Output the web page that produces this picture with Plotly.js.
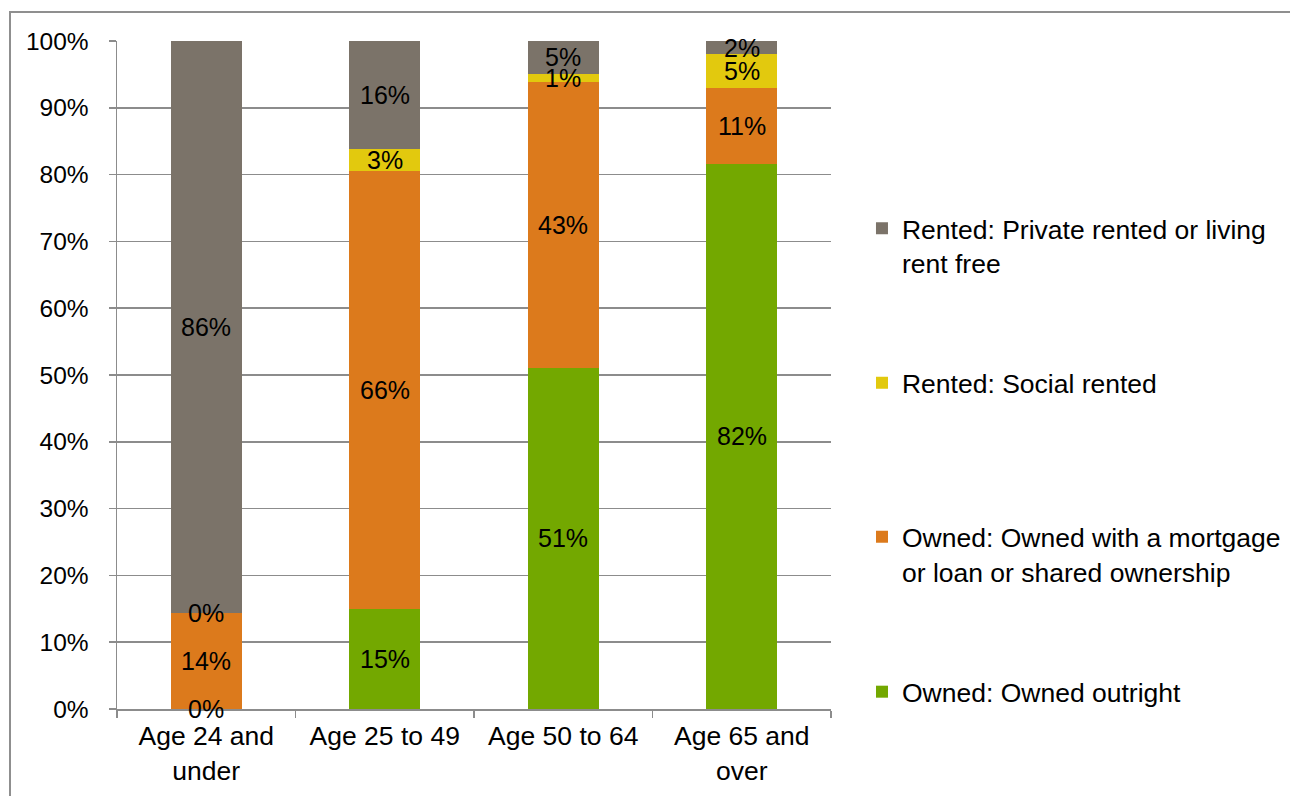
<!DOCTYPE html>
<html>
<head>
<meta charset="utf-8">
<script src="https://cdn.plot.ly/plotly-3.0.1.min.js"></script>
<style>
  html, body { margin: 0; padding: 0; background: #fff; overflow: hidden; }
  #wrap { position: relative; width: 1290px; height: 796px; overflow: hidden; }
  #chart { position: absolute; left: 0; top: 0; width: 1290px; height: 796px; }
  #frame { position: absolute; left: 9px; top: 11px; width: 1400px; height: 900px;
           border: 2px solid #8f8f8f; pointer-events: none; box-sizing: border-box; }
</style>
</head>
<body>
<div id="wrap">
  <div id="chart"></div>
  <div id="frame"></div>
</div>
<script>
// ---- data ----
const categories = ["Age 24 and<br>under", "Age 25 to 49", "Age 50 to 64", "Age 65 and<br>over"];
const ownedOutright = [0, 15.0, 51.1, 81.6];
const ownedMortgage = [14.3, 65.6, 42.7, 11.4];
const socialRented  = [0, 3.3, 1.3, 5.0];
const privateRented = [85.7, 16.1, 4.9, 2.0];
const seriesNames = [
  "Owned: Owned outright",
  "Owned: Owned with a mortgage<br>or loan or shared ownership",
  "Rented: Social rented",
  "Rented: Private rented or living<br>rent free"
];
const yTicks = [0, 10, 20, 30, 40, 50, 60, 70, 80, 90, 100];

// ---- styles ----
const colors = ["#73a800", "#dc7a1c", "#e2c90e", "#7b7369"];
const gridCol = "#8c8c8c";
const FONT = "Liberation Sans, Arial, sans-serif";
const FS_LABEL = 25;
const FS_X = 26.5;
const FS_Y = 24.5;
const FS_LEG = 26.5;

const seriesVals = [ownedOutright, ownedMortgage, socialRented, privateRented];
const legendIds = ["legend4", "legend3", "legend2", "legend"];

const traces = seriesVals.map((vals, i) => ({
  type: "bar",
  x: categories,
  y: vals,
  name: seriesNames[i],
  marker: { color: colors[i], line: { width: 0 } },
  hoverinfo: "skip",
  legend: legendIds[i],
  showlegend: true
}));

// data labels centred in each segment
const annotations = [];
categories.forEach((c, ci) => {
  let base = 0;
  seriesVals.forEach((vals) => {
    const v = vals[ci];
    annotations.push({
      x: c, y: base + v / 2, xref: "x", yref: "y",
      text: Math.round(v) + "%", showarrow: false,
      xanchor: "center", yanchor: "middle",
      font: { family: FONT, size: FS_LABEL, color: "#000" }
    });
    base += v;
  });
});

const legendBase = (y) => ({
  xref: "container", yref: "container",
  x: 0.6682, y: y, xanchor: "left", yanchor: "middle",
  bgcolor: "rgba(0,0,0,0)", borderwidth: 0, valign: "top",
  font: { family: FONT, size: FS_LEG, color: "#000" }
});

const layout = {
  width: 1290, height: 796,
  margin: { l: 117, r: 459, t: 41, b: 87, pad: 0 },
  paper_bgcolor: "#fff", plot_bgcolor: "#fff",
  barmode: "stack", bargap: 0.6,
  font: { family: FONT, size: FS_LABEL, color: "#000" },
  xaxis: {
    type: "category", tickson: "boundaries", ticks: "outside", ticklen: 7,
    tickcolor: gridCol, tickwidth: 1.5, showline: true, linecolor: gridCol, linewidth: 1.5,
    showgrid: false, ticklabelstandoff: 3, fixedrange: true,
    tickfont: { family: FONT, size: FS_X, color: "#000" }
  },
  yaxis: {
    range: [0, 100], tickvals: yTicks, ticktext: yTicks.map(t => t + "%"),
    showgrid: true, gridcolor: gridCol, gridwidth: 1.5,
    showline: true, linecolor: gridCol, linewidth: 1.5,
    ticks: "outside", ticklen: 7, tickcolor: gridCol, tickwidth: 1.5,
    zeroline: false, ticklabelstandoff: 15, fixedrange: true,
    tickfont: { family: FONT, size: FS_Y, color: "#000" }
  },
  legend:  legendBase(0.6916),
  legend2: legendBase(0.5188),
  legend3: legendBase(0.304),
  legend4: legendBase(0.1307),
  annotations: annotations
};

Plotly.newPlot("chart", traces, layout, { displayModeBar: false, staticPlot: true });
</script>
</body>
</html>
